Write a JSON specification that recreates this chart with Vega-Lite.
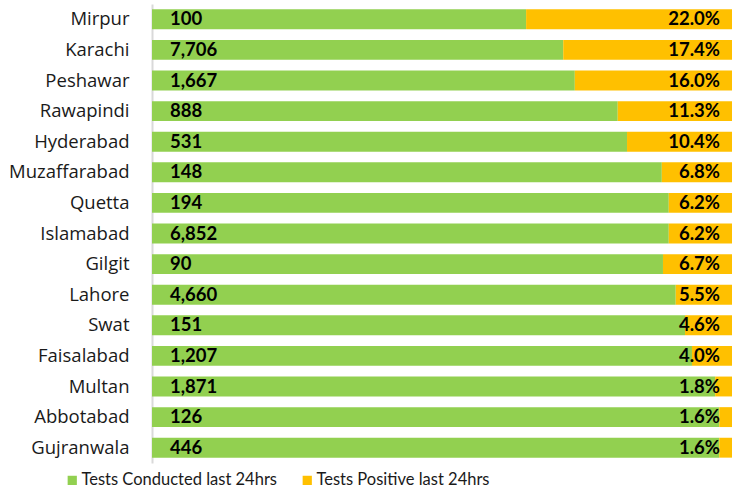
{
  "$schema": "https://vega.github.io/schema/vega-lite/v6.json",
  "autosize": "none",
  "width": 580,
  "height": 459,
  "padding": {"left": 152, "top": 4, "right": 0, "bottom": 28},
  "background": "white",
  "config": {"view": {"stroke": null}, "font": "Lato"},
  "data": {
    "values": [
      {"city": "Mirpur", "tests": 100, "pct": "22.0%", "Tests Conducted last 24hrs": 0.645, "Tests Positive last 24hrs": 0.355},
      {"city": "Karachi", "tests": 7706, "pct": "17.4%", "Tests Conducted last 24hrs": 0.709, "Tests Positive last 24hrs": 0.291},
      {"city": "Peshawar", "tests": 1667, "pct": "16.0%", "Tests Conducted last 24hrs": 0.729, "Tests Positive last 24hrs": 0.271},
      {"city": "Rawapindi", "tests": 888, "pct": "11.3%", "Tests Conducted last 24hrs": 0.803, "Tests Positive last 24hrs": 0.197},
      {"city": "Hyderabad", "tests": 531, "pct": "10.4%", "Tests Conducted last 24hrs": 0.819, "Tests Positive last 24hrs": 0.181},
      {"city": "Muzaffarabad", "tests": 148, "pct": "6.8%", "Tests Conducted last 24hrs": 0.879, "Tests Positive last 24hrs": 0.121},
      {"city": "Quetta", "tests": 194, "pct": "6.2%", "Tests Conducted last 24hrs": 0.891, "Tests Positive last 24hrs": 0.109},
      {"city": "Islamabad", "tests": 6852, "pct": "6.2%", "Tests Conducted last 24hrs": 0.891, "Tests Positive last 24hrs": 0.109},
      {"city": "Gilgit", "tests": 90, "pct": "6.7%", "Tests Conducted last 24hrs": 0.881, "Tests Positive last 24hrs": 0.119},
      {"city": "Lahore", "tests": 4660, "pct": "5.5%", "Tests Conducted last 24hrs": 0.903, "Tests Positive last 24hrs": 0.097},
      {"city": "Swat", "tests": 151, "pct": "4.6%", "Tests Conducted last 24hrs": 0.919, "Tests Positive last 24hrs": 0.081},
      {"city": "Faisalabad", "tests": 1207, "pct": "4.0%", "Tests Conducted last 24hrs": 0.931, "Tests Positive last 24hrs": 0.069},
      {"city": "Multan", "tests": 1871, "pct": "1.8%", "Tests Conducted last 24hrs": 0.971, "Tests Positive last 24hrs": 0.029},
      {"city": "Abbotabad", "tests": 126, "pct": "1.6%", "Tests Conducted last 24hrs": 0.978, "Tests Positive last 24hrs": 0.022},
      {"city": "Gujranwala", "tests": 446, "pct": "1.6%", "Tests Conducted last 24hrs": 0.978, "Tests Positive last 24hrs": 0.022}
    ]
  },
  "encoding": {
    "y": {
      "field": "city",
      "type": "nominal",
      "sort": null,
      "scale": {"paddingInner": 0.35, "paddingOuter": 0.175},
      "axis": {
        "title": null,
        "ticks": false,
        "domain": true,
        "domainColor": "#d9d9d9",
        "domainWidth": 2,
        "labelFontSize": 18.5,
        "labelColor": "#1a1a1a",
        "labelPadding": 23,
        "labelFont": "Open Sans"
      }
    }
  },
  "layer": [
    {
      "transform": [{"fold": ["Tests Conducted last 24hrs", "Tests Positive last 24hrs"], "as": ["series", "share"]}],
      "mark": {"type": "bar"},
      "encoding": {
        "x": {"field": "share", "type": "quantitative", "stack": "zero", "scale": {"domain": [0, 1], "nice": false}, "axis": null},
        "order": {"field": "series"},
        "color": {
          "field": "series",
          "type": "nominal",
          "scale": {"domain": ["Tests Conducted last 24hrs", "Tests Positive last 24hrs"], "range": ["#92D050", "#FFC000"]},
          "legend": {
            "title": null,
            "orient": "none",
            "legendX": -88,
            "legendY": 468,
            "padding": 0,
            "direction": "horizontal",
            "symbolType": "square",
            "symbolSize": 85,
            "symbolStrokeWidth": 0,
            "labelFontSize": 16.5,
            "labelColor": "#1a1a1a",
            "labelFont": "Lato",
            "labelLimit": 300,
            "columnPadding": 22,
            "labelOffset": 1
          }
        }
      }
    },
    {
      "mark": {"type": "text", "align": "left", "baseline": "middle", "dx": 18, "fontWeight": "bold", "fontSize": 18.5, "color": "#000000"},
      "encoding": {
        "x": {"datum": 0, "type": "quantitative"},
        "text": {"field": "tests", "type": "quantitative", "format": ","}
      }
    },
    {
      "mark": {"type": "text", "align": "right", "baseline": "middle", "dx": -12, "fontWeight": "bold", "fontSize": 18.5, "color": "#000000"},
      "encoding": {
        "x": {"datum": 1, "type": "quantitative"},
        "text": {"field": "pct", "type": "nominal"}
      }
    }
  ]
}
